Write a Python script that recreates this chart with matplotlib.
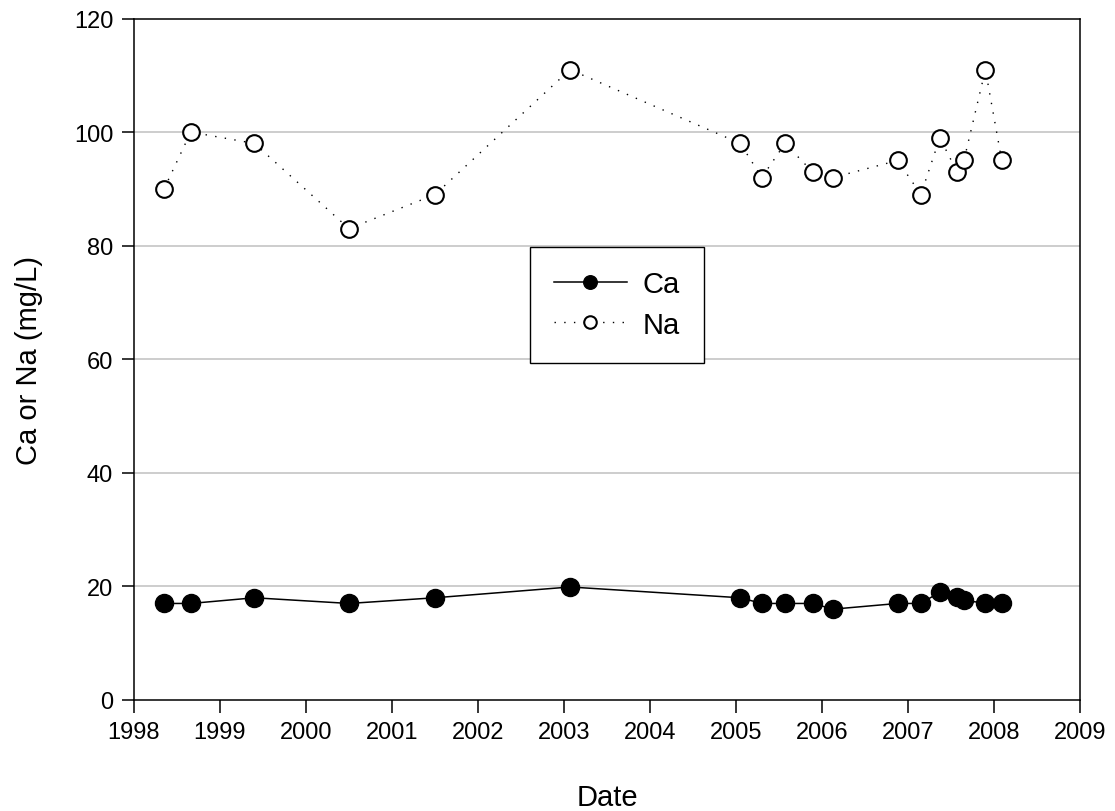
import matplotlib
matplotlib.use("Agg")
import matplotlib.pyplot as plt

dates = [1998.35, 1998.66, 1999.40, 2000.50, 2001.50, 2003.07, 2005.05, 2005.30,
         2005.57, 2005.89, 2006.13, 2006.88, 2007.15, 2007.37, 2007.57, 2007.65,
         2007.90, 2008.09]
ca = [17, 17, 18, 17, 18, 19.9, 18, 17, 17, 17, 16, 17, 17, 19, 18.2, 17.6, 17, 17]
na = [90, 100, 98, 83, 89, 111, 98, 92, 98, 93, 92, 95, 89, 99, 93, 95, 111, 95]
xticks = list(range(1998, 2010))
yticks = list(range(0, 121, 20))

plt.rcParams['font.family'] = ['Liberation Sans', 'DejaVu Sans']

fig = plt.figure(figsize=(11.15, 8.12), dpi=100)
ax = fig.add_axes([134/1115, 1-701/812, (1080-134)/1115, (701-19.5)/812])

for y in yticks[1:-1]:
    ax.axhline(y, color='#c0c0c0', lw=1.1, zorder=0)

ax.plot(dates, ca, '-', color='black', lw=1.1, marker='o', ms=13,
        mfc='black', mec='black', label='Ca', zorder=3)
ax.plot(dates, na, linestyle=(0, (1, 6)), color='black', lw=1.0, marker='o',
        ms=12, mfc='white', mec='black', mew=1.5, label='Na', zorder=3)

ax.set_xlim(1998, 2009)
ax.set_ylim(0, 120)
ax.set_xticks(xticks)
ax.set_yticks(yticks)
ax.tick_params(direction='out', length=9, width=1.1, labelsize=17, pad=6)
for s in ax.spines.values():
    s.set_linewidth(1.1)

ax.set_xlabel('Date', fontsize=21, labelpad=29)
ax.set_ylabel('Ca or Na (mg/L)', fontsize=21, labelpad=22)

leg = ax.legend(loc='upper left', bbox_to_anchor=(530/1115, 1-247.5/812),
                bbox_transform=fig.transFigure, fontsize=21, frameon=True,
                fancybox=False, framealpha=1, edgecolor='black', markerscale=0.75,
                handlelength=2.5, borderpad=0.82, labelspacing=0.42, handletextpad=0.55,
                borderaxespad=0)
leg.get_frame().set_linewidth(1.0)

fig.savefig('out.png', dpi=100)
